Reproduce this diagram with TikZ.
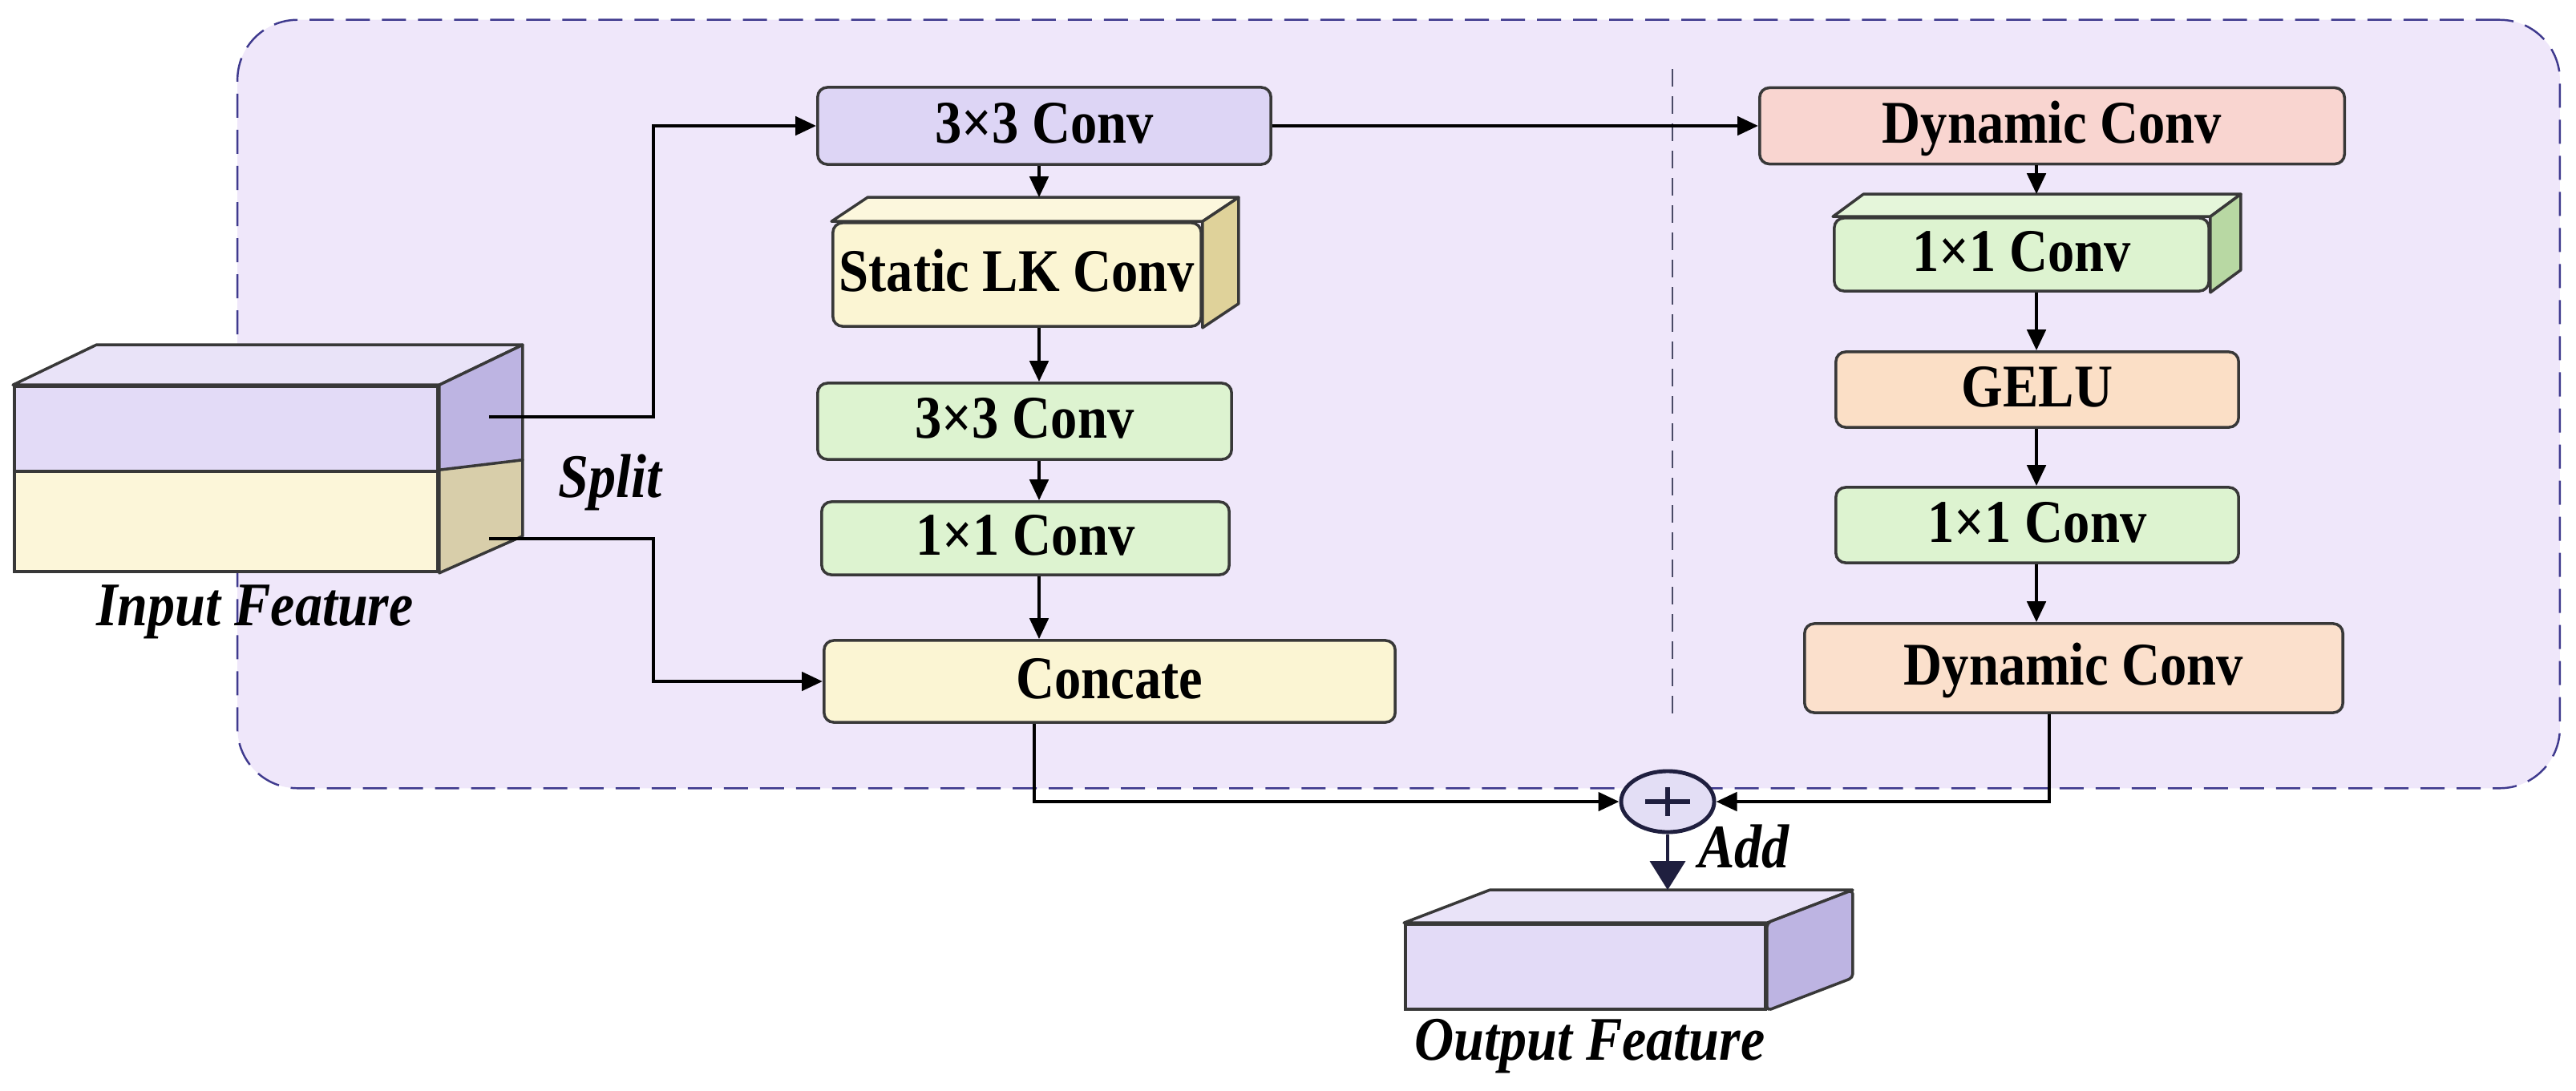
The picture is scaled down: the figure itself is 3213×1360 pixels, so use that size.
\documentclass[tikz,border=0pt]{standalone}
\usepackage{fontspec}
\setmainfont{Liberation Serif}
\newfontfamily\condf[FakeStretch=0.88]{Liberation Serif}
\usetikzlibrary{arrows.meta,calc,shapes.geometric}
\definecolor{bgL}{HTML}{EFE7FA}
\definecolor{dashc}{HTML}{3F3A8E}
\definecolor{sepc}{HTML}{4A4A66}
\definecolor{boxline}{HTML}{383838}
\definecolor{purpF}{HTML}{DDD5F5}
\definecolor{creamF}{HTML}{FBF5D3}
\definecolor{creamT}{HTML}{FCF7DD}
\definecolor{creamS}{HTML}{DFD29A}
\definecolor{greenF}{HTML}{DDF3D0}
\definecolor{greenT}{HTML}{E5F6DA}
\definecolor{greenS}{HTML}{B8D8A3}
\definecolor{pinkF}{HTML}{F9D5D0}
\definecolor{peachF}{HTML}{FBDFC6}
\definecolor{peachG}{HTML}{FBE0CC}
\definecolor{inPF}{HTML}{E3DBF7}
\definecolor{inPT}{HTML}{E9E3F8}
\definecolor{inPS}{HTML}{BDB4E2}
\definecolor{inYF}{HTML}{FCF6D9}
\definecolor{inYS}{HTML}{D8CEAA}
\definecolor{addF}{HTML}{E3DEF5}
\definecolor{navy}{HTML}{1F1F3F}
\begin{document}
\begin{tikzpicture}[x=0.01cm,y=-0.01cm,
  box/.style={draw=boxline, line width=1pt, rounded corners=0.12cm, inner sep=0pt,
    text height=0.5cm, text depth=0.08cm, font=\condf\fontsize{21.5}{24}\selectfont\bfseries},
  face/.style={draw=boxline, line width=1pt, line join=round},
  flat/.style={draw=boxline, line width=1pt, inner sep=0pt},
  lbl/.style={font=\condf\fontsize{22}{24}\selectfont\bfseries\itshape, inner sep=0pt, anchor=base},
  conn/.style={line width=1.35pt, -{Triangle[length=0.26cm,width=0.23cm]}},
]
\useasboundingbox[fill=white] (0,0) rectangle (3213,1360);
% region
\node[draw=dashc, fill=bgL, line width=0.7pt, dash pattern=on 0.3cm off 0.15cm,
  rounded corners=0.75cm, minimum width=28.95cm, minimum height=9.58cm, inner sep=0pt]
  (region) at (1744.5,504) {};
\coordinate (sepT) at (2086,86);
\coordinate (sepB) at (2086,891);
\draw[sepc, line width=0.7pt, dash pattern=on 0.22cm off 0.12cm] (sepT) -- (sepB);

% input feature
\node[flat, fill=inPF, minimum width=5.28cm, minimum height=1.06cm] (inA) at (282,535) {};
\node[flat, fill=inYF, minimum width=5.28cm, minimum height=1.25cm] (inB) at (282,650.5) {};
\coordinate (inSplit) at ($(inA.south east)+(104,-16)$);
\draw[face, fill=inPT] (inA.north west) -- ++(104,-50) -- ($(inA.north east)+(104,-50)$) -- (inA.north east) -- cycle;
\draw[face, fill=inPS] (inA.north east) -- ++(104,-50) -- (inSplit) -- (inA.south east) -- cycle;
\draw[face, fill=inYS] (inB.north east) -- (inSplit) -- ($(inB.south east)+(104,-46)$) -- (inB.south east) -- cycle;
\coordinate (inAout) at (610,520);
\coordinate (inBout) at (610,672);
\coordinate (splitx) at (815,0);

% middle column
\node[box, fill=purpF, minimum width=5.65cm, minimum height=0.96cm] (top3) at (1302.5,157) {3×3 Conv};
\node[box, fill=creamF, minimum width=4.59cm, minimum height=1.29cm] (slk) at (1268.5,342.5) {Static LK Conv};
\draw[face, fill=creamT] (slk.north west) -- ++(45,-30) -- ($(slk.north east)+(45,-30)$) -- (slk.north east) -- cycle;
\draw[face, fill=creamS] (slk.north east) -- ++(45,-30) -- ($(slk.south east)+(45,-30)$) -- (slk.south east) -- cycle;
\node[box, fill=greenF, minimum width=5.16cm, minimum height=0.95cm] (g3) at (1278,525.5) {3×3 Conv};
\node[box, fill=greenF, minimum width=5.08cm, minimum height=0.91cm] (g1) at (1279,671.5) {1×1 Conv};
\node[box, fill=creamF, minimum width=7.12cm, minimum height=1.02cm] (cat) at (1384,850) {Concate};
\coordinate (colM) at (1296,0);
\coordinate (slkTop) at ($(slk.north -| colM)+(0,-30)$);
\coordinate (catx) at (1290,0);

% right column
\node[box, fill=pinkF, minimum width=7.29cm, minimum height=0.95cm] (dyn1) at (2559.5,157) {Dynamic Conv};
\node[box, fill=greenF, minimum width=4.67cm, minimum height=0.91cm] (c1r) at (2521.5,317.5) {1×1 Conv};
\draw[face, fill=greenT] (c1r.north west) -- ++(38,-28) -- ($(c1r.north east)+(38,-28)$) -- (c1r.north east) -- cycle;
\draw[face, fill=greenS] (c1r.north east) -- ++(38,-28) -- ($(c1r.south east)+(38,-28)$) -- (c1r.south east) -- cycle;
\node[box, fill=peachF, minimum width=5.02cm, minimum height=0.94cm] (gelu) at (2541,486) {GELU};
\node[box, fill=greenF, minimum width=5.02cm, minimum height=0.94cm] (c1b) at (2541,655) {1×1 Conv};
\node[box, fill=peachG, minimum width=6.71cm, minimum height=1.11cm] (dyn2) at (2586.5,833.5) {Dynamic Conv};
\coordinate (colR) at (2540,0);
\coordinate (c1rTop) at ($(c1r.north -| colR)+(0,-28)$);
\coordinate (dynx) at (2556,0);

% add + output
\node[ellipse, draw=navy, fill=addF, line width=1.4pt, minimum width=1.16cm, minimum height=0.76cm, inner sep=0pt] (add) at (2080,1000) {};
\draw[navy, line width=1.6pt] ($(add.center)+(-28,0)$) -- ($(add.center)+(28,0)$);
\draw[navy, line width=1.6pt] ($(add.center)+(0,-18)$) -- ($(add.center)+(0,18)$);
\node[flat, fill=inPF, minimum width=4.49cm, minimum height=1.06cm] (outF) at (1977.5,1206) {};
\draw[face, fill=inPT] (outF.north west) -- ++(107,-41) -- ($(outF.north east)+(107,-41)$) -- (outF.north east) -- cycle;
\draw[face, fill=inPS, rounded corners=0.05cm] (outF.north east) -- ++(107,-41) -- ($(outF.south east)+(107,-41)$) -- (outF.south east) -- cycle;
\coordinate (outTop) at ($(add.south |- outF.north)+(0,-41)$);

% connectors
\draw[conn] (inAout) -- (inAout -| splitx) |- (top3.west);
\draw[conn] (inBout) -- (inBout -| splitx) |- (cat.west);
\draw[conn] (top3.east) -- (dyn1.west);
\draw[conn] (top3.south -| colM) -- (slkTop);
\draw[conn] (slk.south -| colM) -- (g3.north -| colM);
\draw[conn] (g3.south -| colM) -- (g1.north -| colM);
\draw[conn] (g1.south -| colM) -- (cat.north -| colM);
\draw[conn] (dyn1.south -| colR) -- (c1rTop);
\draw[conn] (c1r.south -| colR) -- (gelu.north -| colR);
\draw[conn] (gelu.south -| colR) -- (c1b.north -| colR);
\draw[conn] (c1b.south -| colR) -- (dyn2.north -| colR);
\draw[conn] (cat.south -| catx) |- (add.west);
\draw[conn] (dyn2.south -| dynx) |- (add.east);
\draw[navy, line width=1pt, -{Triangle[length=0.36cm,width=0.44cm]}] (add.south) -- (outTop);

% labels
\node[lbl] (split) at (761,620) {Split};
\node[lbl] (inlbl) at (318,780) {Input Feature};
\node[lbl] (addlbl) at (2175,1082) {Add};
\node[lbl] (outlbl) at (1983,1322) {Output Feature};
\end{tikzpicture}
\end{document}
